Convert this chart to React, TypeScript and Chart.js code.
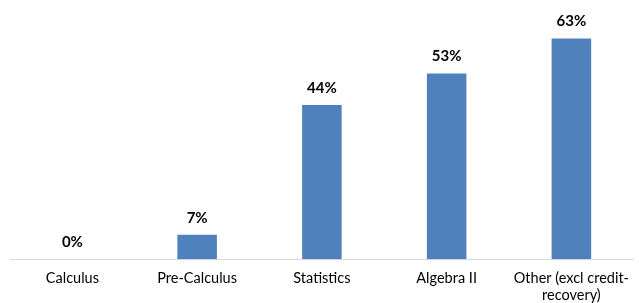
import React, { useEffect, useRef } from "react";
import { Chart, registerables } from "chart.js";

Chart.register(...registerables);

const categories: (string | string[])[] = [
  "Calculus",
  "Pre-Calculus",
  "Statistics",
  "Algebra II",
  ["Other (excl credit-", "recovery)"],
];
const values: number[] = [0, 7, 44, 53, 63];
const valueLabels: string[] = ["0%", "7%", "44%", "53%", "63%"];

const FONT = "Lato, 'Open Sans', sans-serif";

const dataLabelPlugin = {
  id: "dataLabels",
  afterDatasetsDraw(chart: any) {
    const ctx = chart.ctx;
    const meta = chart.getDatasetMeta(0);
    ctx.save();
    ctx.font = `bold 15px ${FONT}`;
    ctx.fillStyle = "#000000";
    ctx.textAlign = "center";
    ctx.textBaseline = "middle";
    meta.data.forEach((bar: any, i: number) => {
      ctx.fillText(valueLabels[i], bar.x, bar.y - 17);
    });
    ctx.restore();
  },
};

export default function App() {
  const ref = useRef<HTMLCanvasElement>(null);
  useEffect(() => {
    if (!ref.current) return;
    const chart = new Chart(ref.current, {
      type: "bar",
      data: {
        labels: categories,
        datasets: [
          {
            data: values,
            backgroundColor: "#4F81BD",
            borderWidth: 0,
            barPercentage: 1,
            categoryPercentage: 0.317,
          },
        ],
      },
      options: {
        responsive: false,
        animation: false,
        layout: { padding: { left: 10, right: 0, top: 14, bottom: -11 } },
        plugins: {
          legend: { display: false },
          tooltip: { enabled: false },
        },
        scales: {
          x: {
            grid: { display: false, drawTicks: false },
            border: { display: true, color: "#D9D9D9", width: 1 },
            ticks: {
              color: "#000000",
              font: { family: FONT, size: 14.5 },
              padding: 10,
              maxRotation: 0,
              autoSkip: false,
            },
          },
          y: {
            display: false,
            min: 0,
            max: 70,
          },
        },
      },
      plugins: [dataLabelPlugin],
    });
    return () => chart.destroy();
  }, []);
  return (
    <div style={{ position: "absolute", left: 0, top: 0, width: 639, height: 303, background: "#fff" }}>
      <canvas ref={ref} width={639} height={303} />
    </div>
  );
}
